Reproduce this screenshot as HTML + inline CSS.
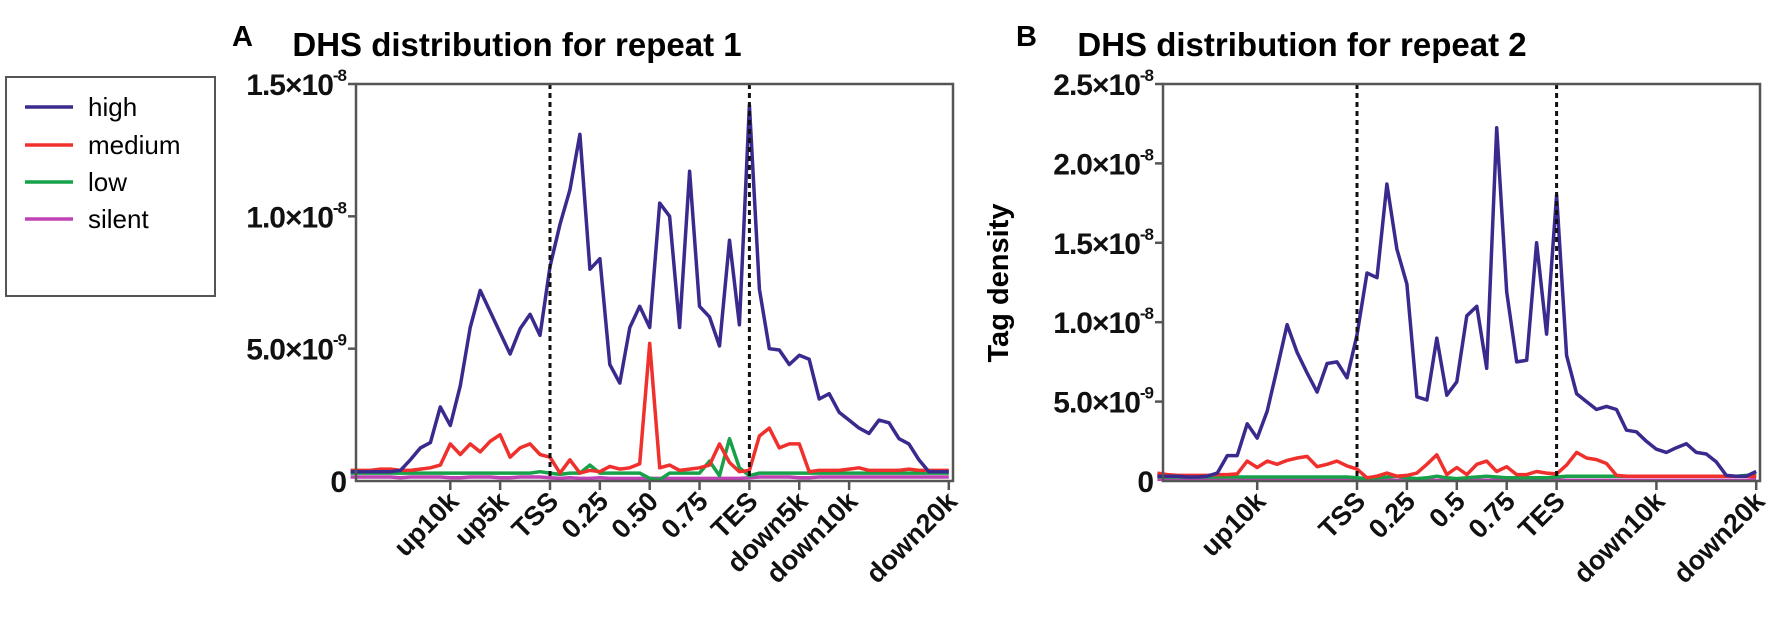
<!DOCTYPE html>
<html><head><meta charset="utf-8">
<style>
html,body{margin:0;padding:0;background:#fff;}
svg{display:block;font-family:"Liberation Sans",Arial,sans-serif;}
</style></head>
<body>
<svg id="fig" width="1772" height="618" viewBox="0 0 1772 618" xmlns="http://www.w3.org/2000/svg">
  <text x="232" y="46" font-size="29" font-weight="bold">A</text>
  <text x="1016" y="46" font-size="29" font-weight="bold">B</text>
  <text x="517" y="56" font-size="33" font-weight="bold" text-anchor="middle">DHS distribution for repeat 1</text>
  <text x="1302" y="56" font-size="33" font-weight="bold" text-anchor="middle">DHS distribution for repeat 2</text>
  <text transform="translate(1008,283) rotate(-90)" font-size="29" font-weight="bold" text-anchor="middle">Tag density</text>
  <g>
    <rect x="6" y="77" width="209" height="219" fill="#fff" stroke="#555" stroke-width="2"/>
    <g><line x1="25" y1="107" x2="73" y2="107" stroke="#3b2a8e" stroke-width="3.5"/><text x="88" y="116" font-size="26">high</text></g>
    <g><line x1="25" y1="145" x2="73" y2="145" stroke="#f0302c" stroke-width="3.5"/><text x="88" y="154" font-size="26">medium</text></g>
    <g><line x1="25" y1="182" x2="73" y2="182" stroke="#17a24a" stroke-width="3.5"/><text x="88" y="191" font-size="26">low</text></g>
    <g><line x1="25" y1="219" x2="73" y2="219" stroke="#c043b4" stroke-width="3.5"/><text x="88" y="228" font-size="26">silent</text></g>
  </g>
  <g id="p1"></g>
  <g id="p2"></g>
</svg>
<script>
// positions in gene units: -2..0 upstream 20k, 0..2 gene body, 2..4 downstream 20k; step 0.1
const xStart = -2, xStep = 0.1;
// Repeat 1 (values in 1e-9)
const r1High = [0.35,0.35,0.35,0.35,0.35,0.4,0.8,1.25,1.45,2.8,2.1,3.6,5.8,7.2,6.4,5.6,4.8,5.75,6.3,5.5,
  8.1,9.7,11,13.1,8.0,8.4,4.4,3.7,5.8,6.6,5.8,10.5,10.0,5.8,11.7,6.6,6.2,5.1,9.1,5.9,
  14.2,7.25,5.0,4.95,4.4,4.75,4.6,3.1,3.3,2.6,2.3,2.0,1.8,2.3,2.2,1.6,1.4,0.8,0.35,0.35,0.35];
const r1Medium = [0.4,0.4,0.4,0.45,0.45,0.4,0.4,0.45,0.5,0.6,1.4,1.0,1.4,1.1,1.5,1.75,0.9,1.25,1.4,1.0,
  0.9,0.3,0.8,0.3,0.4,0.35,0.55,0.45,0.5,0.65,5.2,0.5,0.6,0.4,0.45,0.5,0.6,1.4,0.7,0.35,
  0.4,1.7,2.0,1.25,1.4,1.4,0.35,0.4,0.4,0.4,0.45,0.5,0.4,0.4,0.4,0.4,0.45,0.4,0.4,0.4,0.4];
const r1Low = [0.3,0.3,0.3,0.3,0.3,0.3,0.3,0.3,0.3,0.3,0.3,0.3,0.3,0.3,0.3,0.3,0.3,0.3,0.3,0.35,
  0.3,0.25,0.3,0.3,0.6,0.3,0.3,0.3,0.3,0.3,0.1,0.05,0.3,0.3,0.3,0.3,0.75,0.2,1.6,0.5,
  0.2,0.3,0.3,0.3,0.3,0.3,0.3,0.3,0.3,0.3,0.3,0.3,0.3,0.3,0.3,0.3,0.3,0.3,0.3,0.3,0.3];
const r1Silent = [0.15,0.15,0.15,0.15,0.15,0.12,0.15,0.15,0.15,0.15,0.12,0.12,0.15,0.15,0.15,0.12,0.12,0.15,0.15,0.15,
  0.12,0.1,0.12,0.1,0.1,0.12,0.1,0.1,0.1,0.1,0.1,0.1,0.1,0.1,0.1,0.1,0.1,0.1,0.1,0.1,
  0.12,0.15,0.15,0.15,0.15,0.12,0.12,0.15,0.15,0.15,0.15,0.15,0.15,0.15,0.15,0.15,0.15,0.15,0.15,0.15,0.15];
// Repeat 2 (values in 1e-9)
const r2High = [0.3,0.3,0.3,0.25,0.25,0.3,0.5,1.6,1.6,3.6,2.7,4.4,7.1,9.85,8.1,6.8,5.6,7.4,7.5,6.5,
  9.2,13.1,12.8,18.7,14.6,12.4,5.3,5.1,9.0,5.4,6.25,10.4,11.0,7.1,22.25,11.9,7.5,7.6,15.0,9.25,
  18.0,7.9,5.5,5.0,4.5,4.7,4.5,3.2,3.1,2.5,2.0,1.8,2.1,2.35,1.8,1.7,1.2,0.35,0.3,0.3,0.6];
const r2Medium = [0.5,0.4,0.35,0.35,0.35,0.35,0.4,0.4,0.45,1.25,0.85,1.25,1.05,1.3,1.45,1.55,0.9,1.05,1.25,0.95,
  0.75,0.2,0.3,0.5,0.3,0.35,0.5,1.05,1.65,0.4,0.85,0.4,1.05,1.25,0.6,0.9,0.4,0.4,0.6,0.5,
  0.45,1.0,1.8,1.45,1.35,1.1,0.35,0.3,0.3,0.3,0.3,0.3,0.3,0.3,0.3,0.3,0.3,0.3,0.3,0.3,0.3];
const r2Low = [0.25,0.25,0.25,0.25,0.25,0.25,0.25,0.25,0.25,0.25,0.25,0.25,0.25,0.25,0.25,0.25,0.25,0.25,0.25,0.25,
  0.2,0.15,0.2,0.25,0.3,0.2,0.15,0.2,0.3,0.2,0.15,0.2,0.25,0.3,0.25,0.2,0.2,0.2,0.2,0.2,
  0.25,0.3,0.3,0.3,0.3,0.3,0.3,0.3,0.3,0.3,0.3,0.3,0.3,0.3,0.3,0.3,0.3,0.3,0.3,0.35,0.35];
const r2Silent = [0.1,0.1,0.1,0.1,0.1,0.1,0.1,0.1,0.1,0.1,0.1,0.1,0.1,0.1,0.1,0.1,0.1,0.1,0.1,0.1,
  0.05,0.05,0.05,0.05,0.05,0.05,0.05,0.05,0.05,0.05,0.05,0.05,0.05,0.05,0.05,0.05,0.05,0.05,0.05,0.05,
  0.05,0.05,0.05,0.05,0.05,0.05,0.05,0.05,0.05,0.05,0.05,0.05,0.05,0.05,0.05,0.05,0.05,0.05,0.05,0.05,0.1];
// Tick labels
const r1TickPos = [-1,-0.5,0,0.5,1,1.5,2,2.5,3,4];
const r1TickLabels = ["up10k","up5k","TSS","0.25","0.50","0.75","TES","down5k","down10k","down20k"];
const r2TickPos = [-1,0,0.5,1,1.5,2,3,4];
const r2TickLabels = ["up10k","TSS","0.25","0.5","0.75","TES","down10k","down20k"];
const r1YTicks = [0,5,10,15];
const r1YLabels = [["0",""],["5.0\u00d710","-9"],["1.0\u00d710","-8"],["1.5\u00d710","-8"]];
const r2YTicks = [0,5,10,15,20,25];
const r2YLabels = [["0",""],["5.0\u00d710","-9"],["1.0\u00d710","-8"],["1.5\u00d710","-8"],["2.0\u00d710","-8"],["2.5\u00d710","-8"]];

const NS = "http://www.w3.org/2000/svg";
function mk(parent, tag, attrs){ const e=document.createElementNS(NS,tag); for(const k in attrs) e.setAttribute(k,attrs[k]); parent.appendChild(e); return e; }
const colors = {high:"#3b2a8e",medium:"#f0302c",low:"#17a24a",silent:"#c043b4"};

function drawPlot(g, cfg){
  const L=cfg.left, R=cfg.right, T=84, B=481;
  const xs = u => cfg.tss + u*cfg.unit;
  const ys = v => B - v/cfg.ymax*(B-T);
  const series = [["silent",cfg.silent],["low",cfg.low],["medium",cfg.medium],["high",cfg.high]];
  series.forEach(([name,arr])=>{
    const pts = arr.map((v,i)=>xs(xStart+i*xStep).toFixed(1)+","+ys(v).toFixed(1)).join(" ");
    const pl = mk(g,"polyline",{points:pts,fill:"none",stroke:colors[name],"stroke-width":3.5,"stroke-linejoin":"round"});
    
    
  });
  [0,2].forEach(u=>{
    const d = mk(g,"line",{x1:xs(u),x2:xs(u),y1:T,y2:B,stroke:"#111","stroke-width":3,"stroke-dasharray":"5,4"});
    
    
  });
  const fr = mk(g,"rect",{x:L,y:T,width:R-L,height:B-T,fill:"none",stroke:"#555","stroke-width":2.5});
  
  
  cfg.yTicks.forEach((v,i)=>{
    const y = ys(v);
    if(v>0){ mk(g,"line",{x1:L-8,x2:L,y1:y,y2:y,stroke:"#555","stroke-width":2.5}); }
    const t = mk(g,"text",{x:L-10,y:y+11,"font-size":30,"font-weight":"bold","text-anchor":"end",fill:"#111","letter-spacing":"-1"});
    
    
    const lab = cfg.yLabels[i];
    const a = document.createElementNS(NS,"tspan"); a.textContent = lab[0]; t.appendChild(a);
    if(lab[1]){ const s=document.createElementNS(NS,"tspan"); s.setAttribute("dy","-14"); s.setAttribute("font-size","17"); s.textContent=lab[1]; t.appendChild(s); }
  });
  cfg.xPos.forEach((u,i)=>{
    const x = xs(u);
    mk(g,"line",{x1:x,x2:x,y1:B,y2:B+9,stroke:"#555","stroke-width":2.5});
    const t = mk(g,"text",{transform:"translate("+(x+10)+","+(B+22)+") rotate(-45)","font-size":27,"font-weight":"bold","text-anchor":"end",fill:"#111"});
    t.textContent = cfg.xLabels[i];
    
    
  });
}
drawPlot(document.getElementById("p1"),{left:356,right:953,tss:550,unit:99.7,ymax:15,
  high:r1High,medium:r1Medium,low:r1Low,silent:r1Silent,yTicks:r1YTicks,yLabels:r1YLabels,xPos:r1TickPos,xLabels:r1TickLabels});
drawPlot(document.getElementById("p2"),{left:1163,right:1760,tss:1357,unit:99.8,ymax:25,
  high:r2High,medium:r2Medium,low:r2Low,silent:r2Silent,yTicks:r2YTicks,yLabels:r2YLabels,xPos:r2TickPos,xLabels:r2TickLabels});
</script>
</body></html>
